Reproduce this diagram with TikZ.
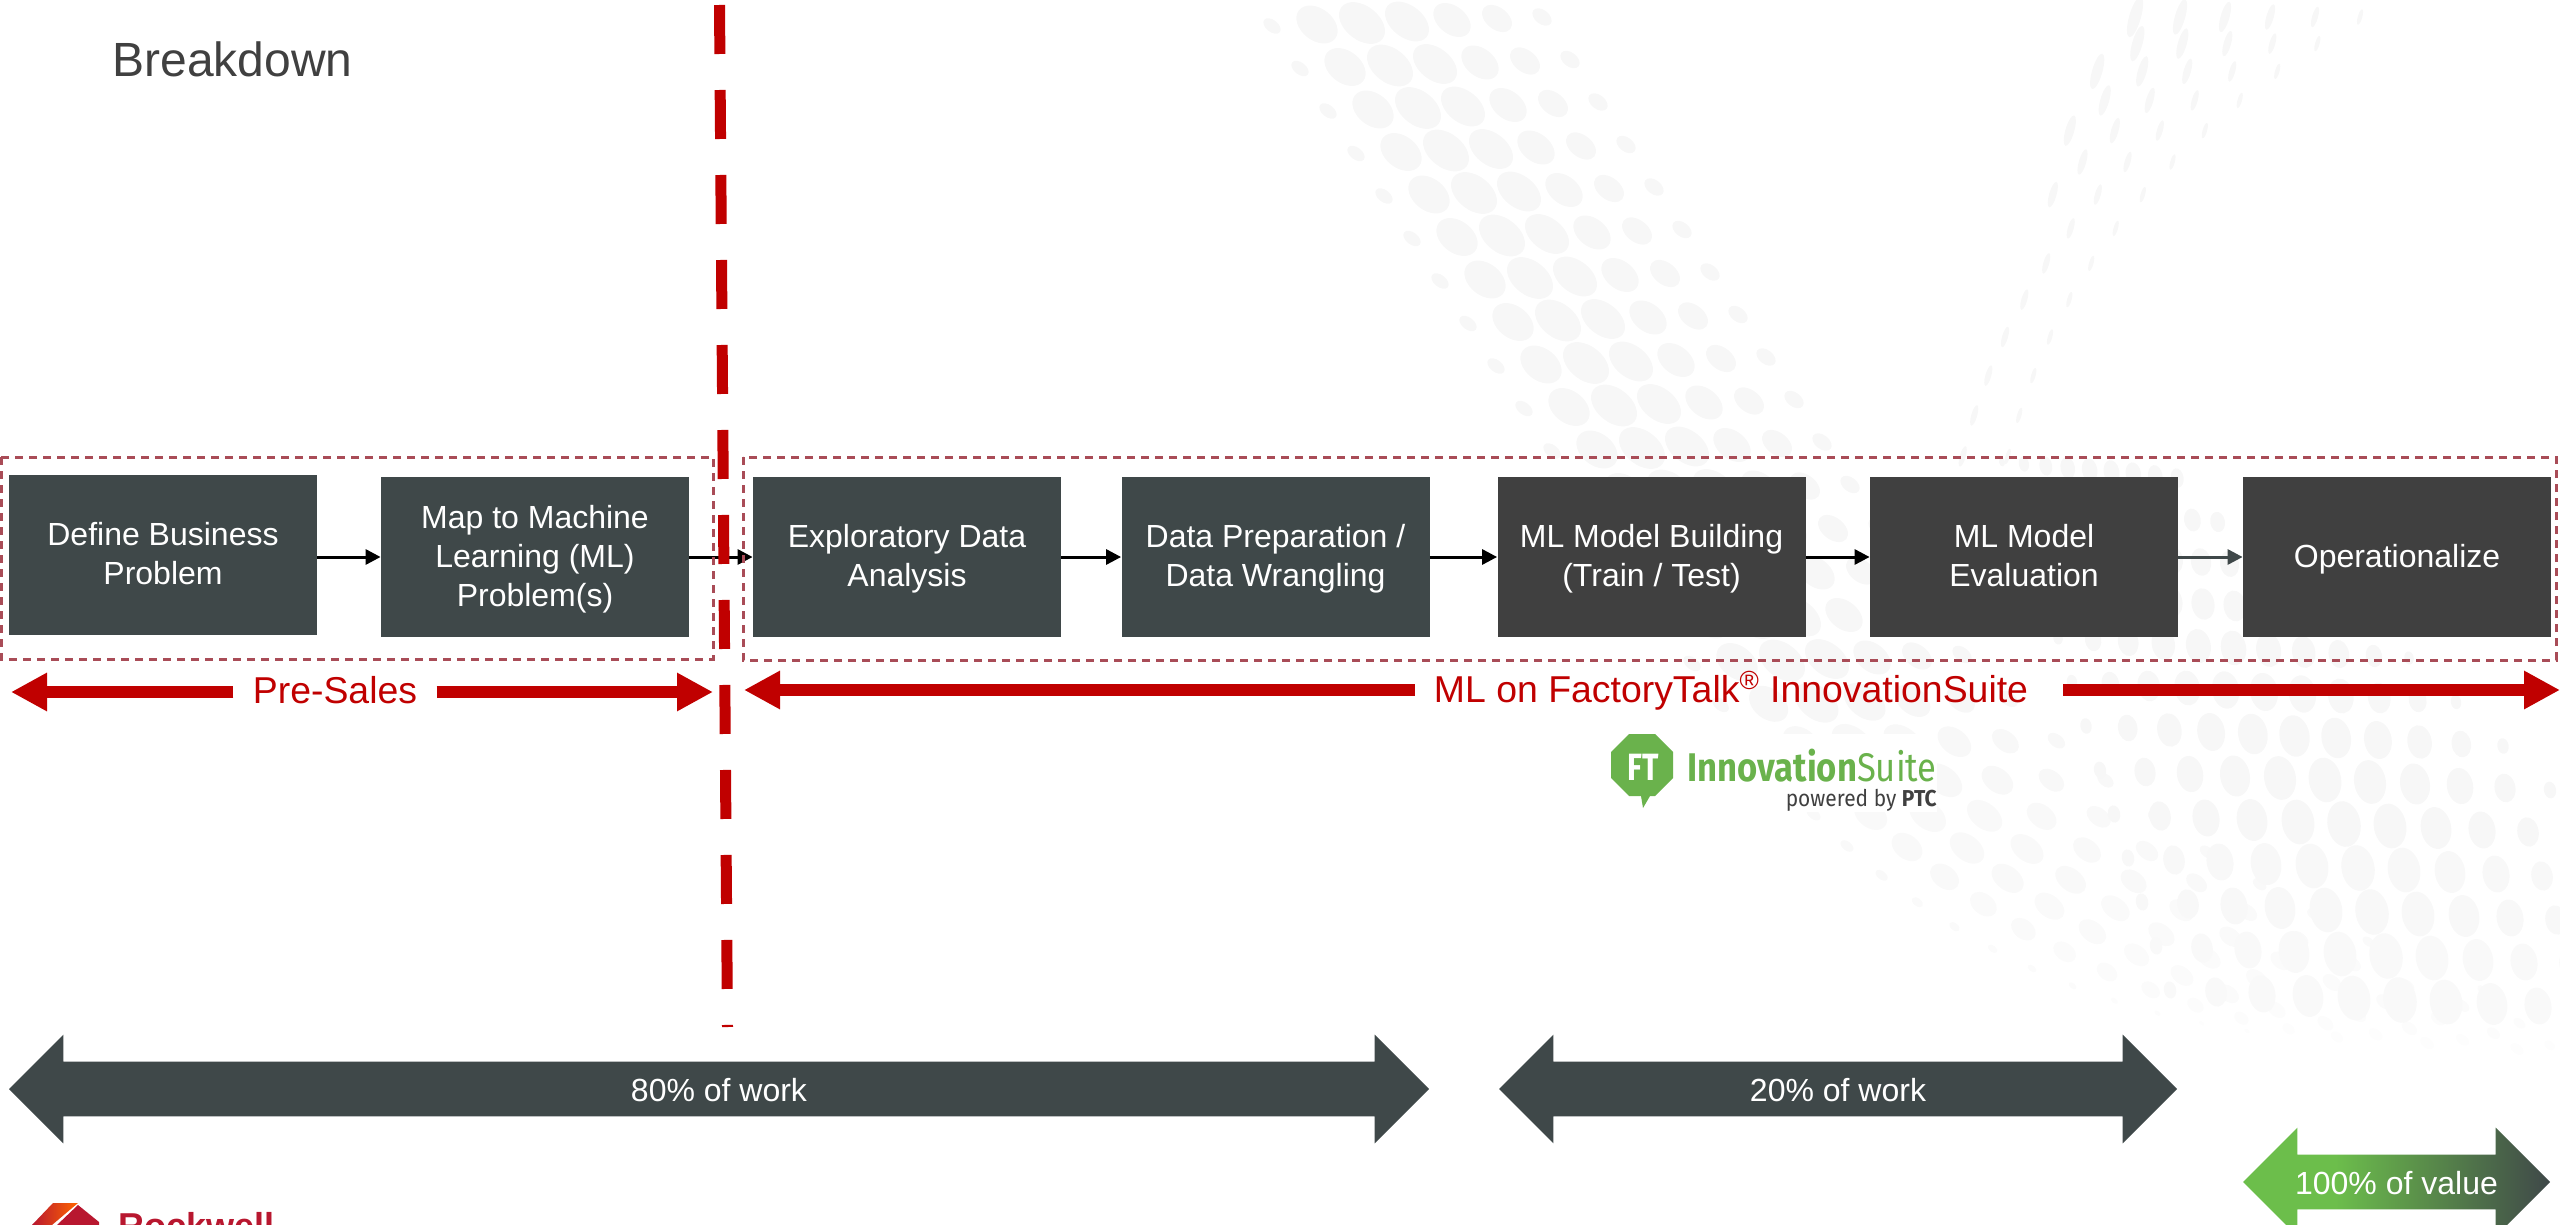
\documentclass[tikz,border=0pt]{standalone}
\usepackage{fontspec}
\setmainfont{Liberation Sans}
\newfontfamily\logofont{Fira Sans}
\usetikzlibrary{arrows.meta,shapes.arrows,backgrounds}
\definecolor{boxslate}{HTML}{3F4849}
\definecolor{boxgrey}{HTML}{404040}
\definecolor{salesred}{HTML}{C00000}
\definecolor{framered}{HTML}{A94C57}
\definecolor{leafgreen}{HTML}{6CBE4B}
\definecolor{logogreen}{HTML}{6AB24C}
\definecolor{dotgrey}{HTML}{F7F7F7}
\definecolor{brandred}{HTML}{B8172F}
\newcommand{\boxwide}{154pt}
\newcommand{\boxhigh}{80pt}
\pgfdeclarehorizontalshading{valueshade}{100bp}{color(0bp)=(leafgreen); color(40bp)=(leafgreen); color(75bp)=(boxslate); color(100bp)=(boxslate)}
\tikzset{
procbox/.style={fill=boxslate,text=white,minimum width=\boxwide,minimum height=\boxhigh,inner sep=0pt,align=center,text depth=1.1pt,font=\fontsize{16}{19.5}\selectfont},
procdark/.style={procbox,fill=boxgrey},
flow/.style={line width=1.5pt,-{Triangle[length=7.5pt,width=7.5pt]}},
frame/.style={framered,line width=1.5pt,dash pattern=on 4pt off 3pt},
redlabel/.style={text=salesred,inner xsep=9.5pt,inner ysep=0pt,font=\fontsize{18.7}{20}\selectfont},
redarrow/.style={salesred,line width=6.3pt,-{Triangle[length=18pt,width=18pt]}},
workarrow/.style={double arrow,double arrow head extend=13.5pt,double arrow head indent=0pt,minimum width=54pt,inner xsep=0pt,inner ysep=6pt,text height=13.5pt,text depth=1.5pt,text=white,font=\fontsize{16}{19}\selectfont},
}
\begin{document}
\begin{tikzpicture}[x=0.5pt,y=-0.5pt]
\useasboundingbox (0,0) rectangle (2560,1225);
\clip (0,0) rectangle (2560,1225);
%dots, falling band
\foreach \i in {0,...,30}{
\foreach \j/\a/\b in {0/5/3,1/11.5/8,2/13/8.5,3/12.5/8,4/10.5/7,5/8.5/5.5,6/5.5/3.5}{
\pgfmathsetmacro{\e}{max(\i-15,0)}
\pgfmathsetmacro{\s}{max(1-0.05*\e,0.3)}
\pgfmathsetmacro{\fd}{max(100-5*\e,25)}
\pgfmathsetmacro{\px}{1272+28*\i+(45+3*\e)*\j+0.6*\e*\e}
\pgfmathsetmacro{\py}{26+42.5*\i-1.5*\j-1.2*\e*\e+0.5*\e*\j}
\fill[dotgrey!\fd!white,shift={(\px,\py)},rotate=-38] (0,0) ellipse ({\a*\s*1pt} and {\b*\s*1pt});
}}
%dots, thin streaks
\foreach \m in {0,...,9}{
\foreach \t in {0,...,16}{
\pgfmathsetmacro{\px}{2360-45*\m-44*\t+1.3*\t*\t}
\pgfmathsetmacro{\py}{17+26*\t+0.6*\t*\t}
\pgfmathtruncatemacro{\keep}{\px>2110-0.35*\py ? 1 : 0}
\ifnum\keep=1
\pgfmathsetmacro{\a}{4+1.3*\m}
\fill[dotgrey,shift={(\px,\py)},rotate=74] (0,0) ellipse ({\a*1pt} and {\a*0.28pt});
\fi
}}
%dots, lower right
\foreach \u in {3,...,15}{
\foreach \v in {0,...,10}{
\pgfmathsetmacro{\g}{min(12+3.3*\u,46)}
\pgfmathsetmacro{\px}{1960+14*\u+\g*\v}
\pgfmathsetmacro{\py}{330+44*\u+2*\v}
\pgfmathsetmacro{\d}{\py-333}
\pgfmathtruncatemacro{\keep}{\px<2049+0.6*\d+0.002*\d*\d ? 1 : 0}
\ifnum\keep=1
\pgfmathsetmacro{\f}{sqrt(sin(180*(\v+0.5)/11))}
\pgfmathsetmacro{\fd}{max(100-7*max(\u-11,0),60)}
\fill[dotgrey!\fd!white,shift={(\px,\py)},rotate=-80] (0,0) ellipse ({max(0.25*\g,6)*\f*1pt} and {0.18*\g*\f*1pt});
\fi
}}
%title
\node[text=boxgrey,anchor=base west,inner sep=0pt,font=\fontsize{24}{24}\selectfont] (title) at (112,77) {Breakdown};
%process
\node[procbox] (1) at (163,555) {Define Business\\Problem};
\node[procbox] (2) at (535,557) {Map to Machine\\Learning (ML)\\Problem(s)};
\node[procbox] (3) at (907,557) {Exploratory Data\\Analysis};
\node[procbox] (4) at (1275.5,556.5) {Data Preparation /\\Data Wrangling};
\node[procdark] (5) at (1651.5,557) {ML Model Building\\(Train / Test)};
\node[procdark] (6) at (2024,557) {ML Model\\Evaluation};
\node[procdark] (7) at (2397,557) {Operationalize};
\draw[flow] (1.east |- 2) -- (2);
\draw[flow] (2) -- (3);
\draw[flow] (3) -- (4.west |- 3);
\draw[flow] (4.east |- 5) -- (5);
\draw[flow] (5) -- (6);
\draw[flow,boxslate] (6) -- (7);
%frames
\draw[frame] (1,457) rectangle (713,659);
\draw[frame] (743,457) rectangle (2556,660);
%split
\coordinate (splittop) at (719.5,5);
\coordinate (splitend) at (727.5,1027);
\draw[salesred,line width=5.5pt,dash pattern=on 24.5pt off 18pt] (splittop) -- (splitend);
%pre-sales
\node[redlabel] (sales) at (335,690) {Pre-Sales};
\coordinate (salesl) at (11,692);
\coordinate (salesr) at (713,692);
\draw[redarrow] (sales.west |- salesl) -- (salesl);
\draw[redarrow] (sales.east |- salesr) -- (salesr);
%suite
\node[redlabel] (suite) at (1731,691) {ML on FactoryTalk\textsuperscript{®} InnovationSuite};
\coordinate (suitel) at (744,690);
\coordinate (suiter) at (2560,690);
\draw[redarrow] (suite.west |- suitel) -- (suitel);
\draw[redarrow] ([xshift=8pt]suite.east |- suiter) -- (suiter);
%logo
\fill[white] (1611,734) rectangle (1937,812);
\fill[logogreen] (1629,734) -- (1655,734) -- (1673,752) -- (1673,778) -- (1655,796) -- (1650,796) -- (1643,808) -- (1641,796) -- (1629,796) -- (1611,778) -- (1611,752) -- cycle;
\node[text=white,inner sep=0pt,font=\logofont\bfseries\fontsize{19}{19}\selectfont] (ft) at (1643,767) {\scalebox{0.8}[1]{FT}};
\node[text=logogreen,anchor=base east,inner sep=0pt,font=\logofont\fontsize{20}{20}\selectfont] (brand) at (1937,781) {\scalebox{0.865}[1]{\textbf{Innovation}Suite}};
\node[text=boxgrey,anchor=base east,inner sep=0pt,font=\logofont\fontsize{11.5}{12}\selectfont] (ptc) at (1937,806) {\scalebox{0.91}[1]{powered by \textbf{PTC}}};
%work
\node[workarrow,fill=boxslate,minimum height=710pt] (work80) at (719,1089) {80\% of work};
\node[workarrow,fill=boxslate,minimum height=339pt] (work20) at (1838,1089) {20\% of work};
\node[workarrow,shade,shading=valueshade,minimum height=153.5pt] (value) at (2396.5,1182) {100\% of value};
%brand
\fill[brandred] (78,1205) -- (99,1222) -- (99,1225) -- (57,1225) -- cycle;
\shade[left color=brandred,right color=orange!80!red] (53,1203) -- (78,1203) -- (52,1225) -- (32,1225) -- cycle;
\node[text=brandred,anchor=base west,inner sep=0pt,font=\bfseries\fontsize{18}{18}\selectfont] (rock) at (118,1238) {Rockwell};
\end{tikzpicture}
\end{document}
